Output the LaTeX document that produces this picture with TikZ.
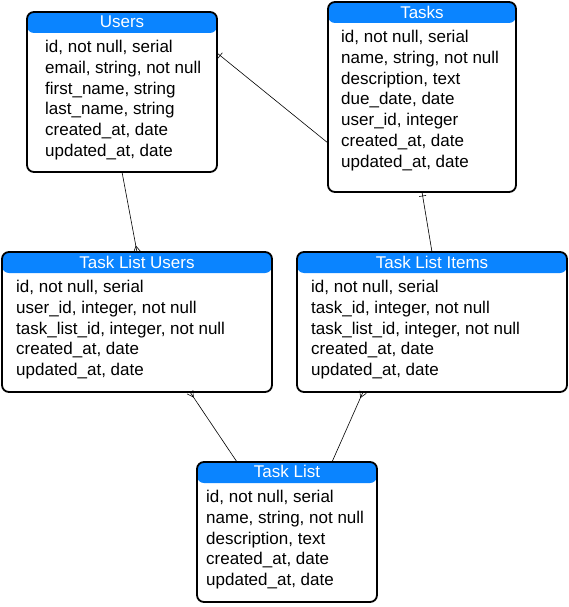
\documentclass[tikz,border=0pt]{standalone}
\usepackage{fontspec}
\setmainfont{Liberation Sans}
\usetikzlibrary{calc}
\definecolor{hdrblue}{RGB}{10,132,255}
\tikzset{
  tbl/.style={draw=black, line width=1.8pt, rounded corners=7pt, inner sep=0pt, outer sep=0pt, fill=white,
    path picture={\fill[hdrblue] (path picture bounding box.north west) rectangle ([yshift=-21pt]path picture bounding box.north east);}},
  ttl/.style={text=white, font=\fontsize{17}{19}\selectfont, inner sep=0pt, anchor=center},
  fields/.style={align=left, anchor=north west, inner sep=0pt, font=\fontsize{17}{20.8}\selectfont},
  conn/.style={draw=black, line width=0.6pt},
}
\newcommand{\crowfoot}[2]{\draw[conn] ($(#1)!3.5pt!90:(#2)$) -- ($(#1)!6pt!(#2)$) -- ($(#1)!3.5pt!-90:(#2)$);}
\newcommand{\onebar}[3]{\coordinate (#3) at ($(#1)!4pt!(#2)$);\draw[conn] ($(#3)!3.5pt!90:(#2)$) -- ($(#3)!3.5pt!-90:(#2)$);}
\begin{document}
\begin{tikzpicture}[x=1pt,y=-1pt]
\useasboundingbox (0,0) rectangle (569,607);
% tables
\node[tbl, minimum width=190pt, minimum height=160pt] (users) at (122,92) {};
\node[ttl] (usersT) at (122,22) {Users};
\node[fields] (usersF) at (45,40) {id, not null, serial\\email, string, not null\\first\_name, string\\last\_name, string\\created\_at, date\\updated\_at, date};

\node[tbl, minimum width=188pt, minimum height=190pt] (tasks) at (422,97) {};
\node[ttl] (tasksT) at (422,12) {Tasks};
\node[fields] (tasksF) at (341,30) {id, not null, serial\\name, string, not null\\description, text\\due\_date, date\\user\_id, integer\\created\_at, date\\updated\_at, date};

\node[tbl, minimum width=270pt, minimum height=140pt] (tlu) at (137,322) {};
\node[ttl] (tluT) at (137,262) {Task List Users};
\node[fields] (tluF) at (16,280) {id, not null, serial\\user\_id, integer, not null\\task\_list\_id, integer, not null\\created\_at, date\\updated\_at, date};

\node[tbl, minimum width=270pt, minimum height=140pt] (tli) at (432,322) {};
\node[ttl] (tliT) at (432,262) {Task List Items};
\node[fields] (tliF) at (311,280) {id, not null, serial\\task\_id, integer, not null\\task\_list\_id, integer, not null\\created\_at, date\\updated\_at, date};

\node[tbl, minimum width=180pt, minimum height=140pt] (tl) at (287,532) {};
\node[ttl] (tlT) at (287,471) {Task List};
\node[fields] (tlF) at (206,490) {id, not null, serial\\name, string, not null\\description, text\\created\_at, date\\updated\_at, date};

% connector endpoints
\coordinate (c1a) at (users.south);
\coordinate (c1b) at (tlu.north);
\coordinate (c2a) at ([yshift=39pt]users.east);
\coordinate (c2b) at ([yshift=-46pt]tasks.west);
\coordinate (c3a) at (tasks.south);
\coordinate (c3b) at (tli.north);
\coordinate (c4a) at ([xshift=53pt]tlu.south);
\coordinate (c4b) at ([xshift=-50pt]tl.north);
\coordinate (c5a) at ([xshift=-69pt]tli.south);
\coordinate (c5b) at ([xshift=45pt]tl.north);

\draw[conn] (c1a) -- (c1b);
\draw[conn] (c2a) -- (c2b);
\draw[conn] (c3a) -- (c3b);
\draw[conn] (c4a) -- (c4b);
\draw[conn] (c5a) -- (c5b);

\crowfoot{c1b}{c1a}
\crowfoot{c4a}{c4b}
\crowfoot{c5a}{c5b}
\onebar{c2a}{c2b}{m2}
\onebar{c3a}{c3b}{m3}
\end{tikzpicture}
\end{document}
